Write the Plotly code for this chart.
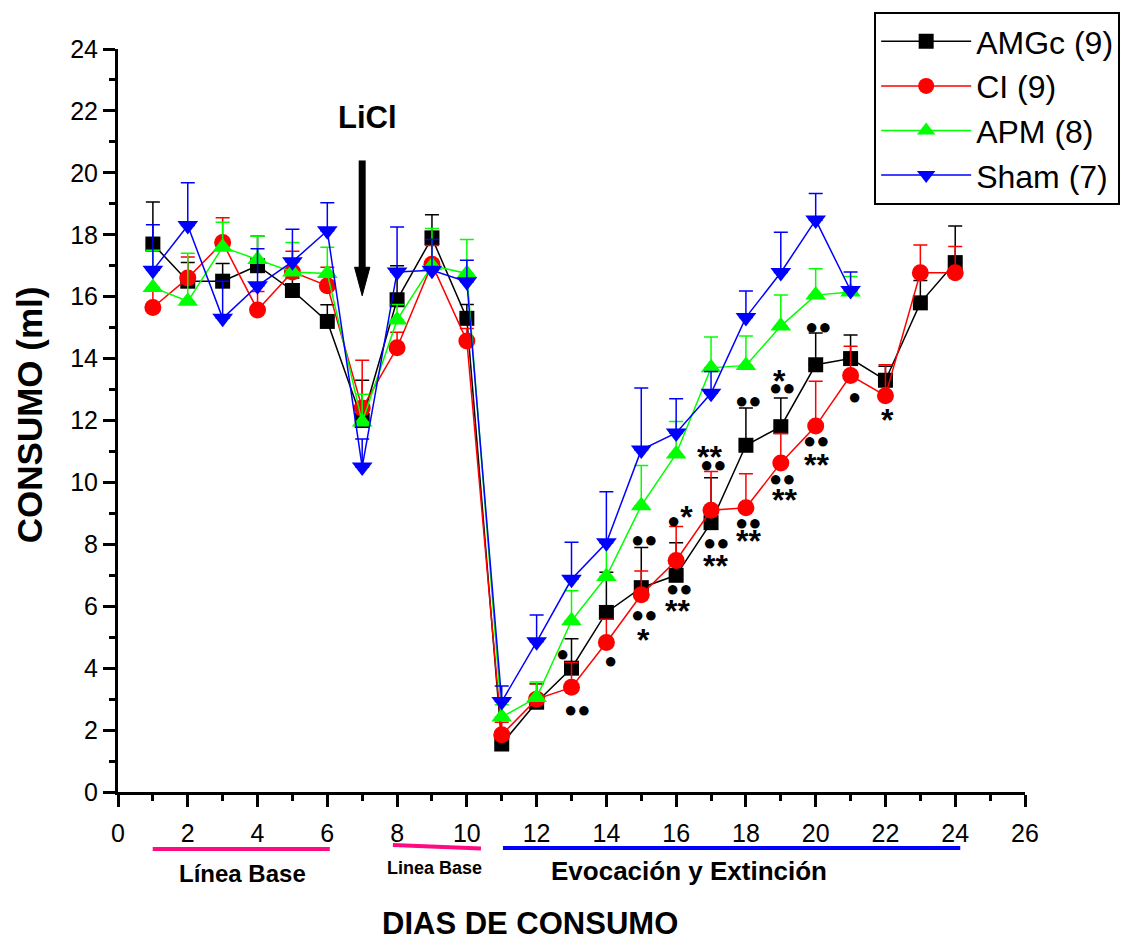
import plotly.graph_objects as go

# ---------------- data ----------------
days_all = list(range(1, 25))
days_21 = list(range(1, 22))

amgc = [17.7, 16.5, 16.5, 17.0, 16.2, 15.2, 12.0, 15.9, 17.9, 15.3, 1.55, 2.9,
        4.0, 5.8, 6.6, 7.0, 8.7, 11.2, 11.8, 13.8, 14.0, 13.3, 15.8, 17.1]
amgc_err = [1.36, 0.6, 0.57, 0.95, 0.4, 0.54, 1.3, 1.1, 0.75, 0.45, 0.25, 0.6,
            0.95, 1.3, 1.3, 1.05, 1.45, 1.2, 0.93, 1.03, 0.76, 0.45, 0.72, 1.18]

ci = [15.65, 16.6, 17.75, 15.57, 16.8, 16.35, 12.4, 14.35, 17.05, 14.57, 1.85, 3.0,
      3.38, 4.83, 6.37, 7.48, 9.1, 9.18, 10.63, 11.82, 13.45, 12.8, 16.77, 16.77]
ci_err = [0.55, 0.68, 0.8, 0.6, 0.67, 0.6, 1.55, 0.5, 0.6, 0.4, 0.4, 0.5,
          0.8, 0.75, 0.77, 1.1, 1.25, 1.1, 0.95, 1.45, 0.95, 1.0, 0.9, 0.85]

apm = [16.3, 15.85, 17.6, 17.2, 16.8, 16.75, 11.95, 15.25, 17.0, 16.75, 2.42, 3.05,
       5.53, 6.96, 9.25, 10.92, 13.7, 13.78, 15.05, 16.05, 16.15]
apm_err = [1.2, 1.55, 0.8, 0.75, 0.95, 0.85, 0.9, 0.5, 1.2, 1.1, 0.4, 0.5,
           0.97, 1.15, 1.3, 1.05, 1.0, 0.95, 1.0, 0.85, 0.5]

sham = [16.85, 18.3, 15.3, 16.35, 17.13, 18.13, 10.5, 16.8, 16.85, 16.48, 2.92, 4.85,
        6.87, 8.05, 11.05, 11.6, 12.88, 15.33, 16.78, 18.48, 16.2]
sham_err = [1.47, 1.38, 1.2, 1.2, 1.05, 0.9, 0.9, 1.45, 1.0, 0.7, 0.5, 0.87,
            1.2, 1.65, 2.0, 1.1, 0.7, 0.85, 1.3, 0.85, 0.6]

series_names = ["AMGc (9)", "CI (9)", "APM (8)", "Sham (7)"]

# significance labels (x, y, text)
sig_labels = [
    (12.75, 4.48, "●"), (13.17, 2.65, "●●"), (14.12, 4.26, "●"),
    (15.09, 8.17, "●●"), (15.09, 5.74, "●●"), (15.06, 5.18, "*"),
    (16.11, 9.0, "●*"), (16.11, 6.58, "●●"), (16.04, 6.11, "**"),
    (16.97, 11.08, "**"), (17.07, 10.59, "●●"), (17.17, 8.07, "●●"), (17.12, 7.55, "**"),
    (18.06, 12.64, "●●"), (18.06, 8.71, "●●"), (18.06, 8.36, "**"),
    (18.96, 13.54, "*"), (19.06, 13.07, "●●"), (19.06, 10.13, "●●"), (19.1, 9.7, "**"),
    (20.09, 15.05, "●●"), (20.01, 11.35, "●●"), (20.01, 10.83, "**"),
    (21.1, 12.77, "●"), (22.06, 12.28, "*"),
]

FONT = "Arial, Liberation Sans, sans-serif"

fig = go.Figure()

specs = [
    (days_all, amgc, amgc_err, "#000000", "square", 15),
    (days_all, ci, ci_err, "#ff0000", "circle", 17),
    (days_21, apm, apm_err, "#00ff00", "triangle-up", 18),
    (days_21, sham, sham_err, "#0000ff", "triangle-down", 18),
]
for name, (xs, ys, es, col, sym, sz) in zip(series_names, specs):
    fig.add_trace(go.Scatter(
        x=xs, y=ys, name=name, mode="lines+markers",
        line=dict(color=col, width=1.5),
        marker=dict(symbol=sym, size=sz, color=col, line=dict(width=0)),
        error_y=dict(type="data", symmetric=False, array=es,
                     arrayminus=[0] * len(es), color=col, thickness=1.5, width=7),
    ))

annotations = []
for x, y, t in sig_labels:
    if t == "*" or t == "**":
        txt = "<b>" + t + "</b>"
        size = 32
        ys = -8
    elif "*" in t:
        txt = '●<b><span style="font-size:32px">*</span></b>'
        size = 22
        ys = -4
    else:
        txt = t
        size = 22
        ys = 0
    annotations.append(dict(x=x, y=y, xref="x", yref="y", text=txt, showarrow=False,
                            font=dict(family=FONT, size=size, color="black"),
                            xanchor="center", yanchor="middle", yshift=ys))

def txt_ann(x, y, text, size, xref="paper", yref="paper", angle=0):
    return dict(x=x, y=y, xref=xref, yref=yref, text=text, showarrow=False,
                textangle=angle, xanchor="center", yanchor="middle",
                font=dict(family=FONT, size=size, color="black"))

annotations.append(txt_ann(7.16, 21.8, "<b>LiCl</b>", 31, "x", "y"))
annotations.append(txt_ann(-0.0974, 0.508, "<b>CONSUMO (ml)</b>", 35, angle=-90))
annotations.append(txt_ann(0.4542, -0.1765, "<b>DIAS DE CONSUMO</b>", 31))
annotations.append(txt_ann(0.1376, -0.110, "<b>Línea Base</b>", 24))
annotations.append(txt_ann(0.3489, -0.1023, "<b>Linea Base</b>", 18))
annotations.append(txt_ann(0.6291, -0.1063, "<b>Evocación y Extinción</b>", 26))

def px_x(p):
    return (p - 118.3) / 906.4

def px_y(p):
    return (792 - p) / 743

shapes = [
    # phase underline bars
    dict(type="line", xref="paper", yref="paper", x0=px_x(153), x1=px_x(330),
         y0=px_y(849), y1=px_y(849), line=dict(color="#ff0a80", width=4)),
    dict(type="line", xref="paper", yref="paper", x0=px_x(393), x1=px_x(481),
         y0=px_y(845), y1=px_y(848.5), line=dict(color="#ff0a80", width=4)),
    dict(type="line", xref="paper", yref="paper", x0=px_x(503), x1=px_x(960),
         y0=px_y(848), y1=px_y(848), line=dict(color="#0000ff", width=4)),
    # LiCl arrow
    dict(type="line", xref="x", yref="y", x0=7.0, x1=7.0, y0=20.4, y1=16.8,
         line=dict(color="black", width=7)),
    dict(type="path", xref="x", yref="y",
         path="M 6.78,16.95 L 7.22,16.95 L 7.0,16.03 Z",
         fillcolor="black", line=dict(color="black", width=1)),
]

axis_common = dict(
    showgrid=False, zeroline=False, showline=True, linecolor="black", linewidth=3,
    ticks="outside", ticklen=12, tickwidth=2.5, tickcolor="black",
    tickfont=dict(family=FONT, size=25, color="black"), mirror=False,
)

fig.update_layout(
    width=1127, height=938,
    margin=dict(l=118, r=102, t=49, b=146, autoexpand=False),
    paper_bgcolor="white", plot_bgcolor="white",
    font=dict(family=FONT, color="black"),
    xaxis=dict(range=[0, 26], tick0=0, dtick=2,
               minor=dict(dtick=1, ticks="outside", ticklen=6, tickwidth=2.5, tickcolor="black"),
               ticklabelstandoff=5, **axis_common),
    yaxis=dict(range=[0, 24], tick0=0, dtick=2,
               minor=dict(dtick=1, ticks="outside", ticklen=6, tickwidth=2.5, tickcolor="black"),
               ticklabelstandoff=0, **axis_common),
    legend=dict(x=0.8337, y=1.0498, xanchor="left", yanchor="top",
                bgcolor="white", bordercolor="black", borderwidth=2,
                font=dict(family=FONT, size=32, color="black"),
                itemwidth=90, tracegroupgap=0),
    annotations=annotations,
    shapes=shapes,
    showlegend=True,
)

fig.write_html("out.html")
